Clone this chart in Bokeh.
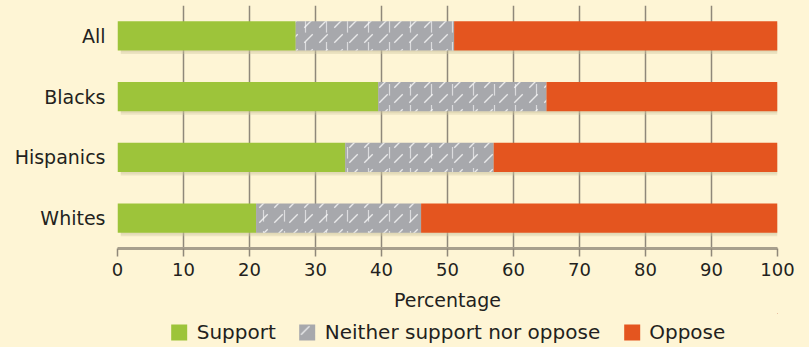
from bokeh.plotting import figure
from bokeh.layouts import column
from bokeh.models import ColumnDataSource, Range1d, FactorRange, Legend, LegendItem, FixedTicker
from bokeh.transform import dodge
from bokeh.embed import file_html
from bokeh.resources import INLINE
import numpy as np

groups = ["All", "Blacks", "Hispanics", "Whites"]
support = [27, 39.5, 34.5, 21]
neither = [24, 25.5, 22.5, 25]
oppose = [49, 35, 43, 54]
series_labels = ["Support", "Neither support nor oppose", "Oppose"]
x_ticks = [0, 10, 20, 30, 40, 50, 60, 70, 80, 90, 100]
x_title = "Percentage"

BG = "#FEF5D5"
TXT = "#231F20"
FONT = "DejaVu Sans"
C_SUP = "#9DC43A"
C_NEI = "#A7A8AC"
C_OPP = "#E4551F"
HATCH = dict(hatch_pattern="right_diagonal_dash", hatch_color="white",
             hatch_alpha=0.75, hatch_scale=15, hatch_weight=1.3)
HATCH2 = dict(hatch_pattern="vertical_dash", hatch_color="white",
              hatch_alpha=0.6, hatch_scale=21, hatch_weight=1.2)

s = np.array(support, dtype=float)
n = np.array(neither, dtype=float)
o = np.array(oppose, dtype=float)
src = ColumnDataSource(dict(
    group=groups,
    s0=np.zeros(len(s)), s1=s,
    n0=s, n1=s + n,
    o0=s + n, o1=s + n + o,
    sh0=np.zeros(len(s)) + 0.5, sh1=s + n + o + 0.5,
))

p = figure(frame_width=660, frame_height=243, output_backend="svg", toolbar_location=None,
           x_range=Range1d(0, 100), y_range=FactorRange(factors=groups[::-1]),
           min_border_left=117, min_border_right=32, min_border_top=5, min_border_bottom=64)
p.background_fill_color = BG
p.border_fill_color = BG
p.outline_line_color = None

# soft shadow
p.hbar(y=dodge("group", -0.06, range=p.y_range), left="sh0", right="sh1", height=0.48,
       source=src, fill_color="#cbc29f", fill_alpha=0.35, line_color=None)
p.hbar(y=dodge("group", -0.03, range=p.y_range), left="sh0", right="sh1", height=0.48,
       source=src, fill_color="#cbc29f", fill_alpha=0.3, line_color=None)

p.hbar(y="group", left="s0", right="s1", height=0.48, source=src,
       fill_color=C_SUP, line_color=None)
p.hbar(y="group", left="n0", right="n1", height=0.48, source=src,
       fill_color=C_NEI, line_color=None, **HATCH)
p.hbar(y="group", left="n0", right="n1", height=0.48, source=src,
       fill_alpha=0, line_color=None, **HATCH2)
p.hbar(y="group", left="o0", right="o1", height=0.48, source=src,
       fill_color=C_OPP, line_color=None)

p.ygrid.grid_line_color = None
p.xgrid.grid_line_color = "#8f887a"
p.xgrid.grid_line_width = 1.5
p.xgrid.ticker = FixedTicker(ticks=x_ticks)

xa = p.xaxis[0]
xa.ticker = FixedTicker(ticks=x_ticks)
xa.axis_line_color = "#a79f8d"
xa.axis_line_width = 3
xa.major_tick_line_color = "#8f887a"
xa.major_tick_line_width = 1.5
xa.major_tick_out = 8
xa.major_tick_in = 0
xa.minor_tick_line_color = None
xa.major_label_text_font = FONT
xa.major_label_text_font_size = "18px"
xa.major_label_text_color = TXT
xa.major_label_standoff = 6
xa.axis_label = x_title
xa.axis_label_text_font = FONT
xa.axis_label_text_font_size = "19px"
xa.axis_label_text_font_style = "normal"
xa.axis_label_text_color = TXT
xa.axis_label_standoff = 10

ya = p.yaxis[0]
ya.axis_line_color = None
ya.major_tick_line_color = None
ya.minor_tick_line_color = None
ya.major_label_text_font = FONT
ya.major_label_text_font_size = "19px"
ya.major_label_text_color = TXT
ya.major_label_standoff = 6

# legend strip under the chart (its glyphs fall outside this strip's ranges)
pl = figure(width=809, height=35, output_backend="svg", toolbar_location=None,
            x_range=Range1d(-1, 0), y_range=Range1d(-1, 0),
            x_axis_type=None, y_axis_type=None,
            min_border_left=0, min_border_right=0, min_border_top=0, min_border_bottom=0)
pl.background_fill_color = BG
pl.border_fill_color = BG
pl.outline_line_color = None
pl.grid.grid_line_color = None
lr1 = pl.hbar(y="s1", left="s0", right="s1", height=0.48, source=src,
              fill_color=C_SUP, line_color=None)
lr2 = pl.hbar(y="n1", left="n0", right="n1", height=0.48, source=src,
              fill_color=C_NEI, line_color=None, **HATCH)
lr3 = pl.hbar(y="o1", left="o0", right="o1", height=0.48, source=src,
              fill_color=C_OPP, line_color=None)

legend = Legend(items=[LegendItem(label=series_labels[0], renderers=[lr1]),
                       LegendItem(label=series_labels[1], renderers=[lr2]),
                       LegendItem(label=series_labels[2], renderers=[lr3])],
                orientation="horizontal", location="bottom_center")
legend.background_fill_alpha = 0
legend.border_line_color = None
legend.label_text_font = FONT
legend.label_text_font_size = "20px"
legend.label_text_color = TXT
legend.glyph_width = 20
legend.glyph_height = 20
legend.label_standoff = 8
legend.spacing = 21
legend.padding = 2
legend.margin = 4
pl.add_layout(legend, "center")

layout = column(p, pl, spacing=0, styles={"background-color": BG})
open("out.html", "w").write(file_html(layout, INLINE))
